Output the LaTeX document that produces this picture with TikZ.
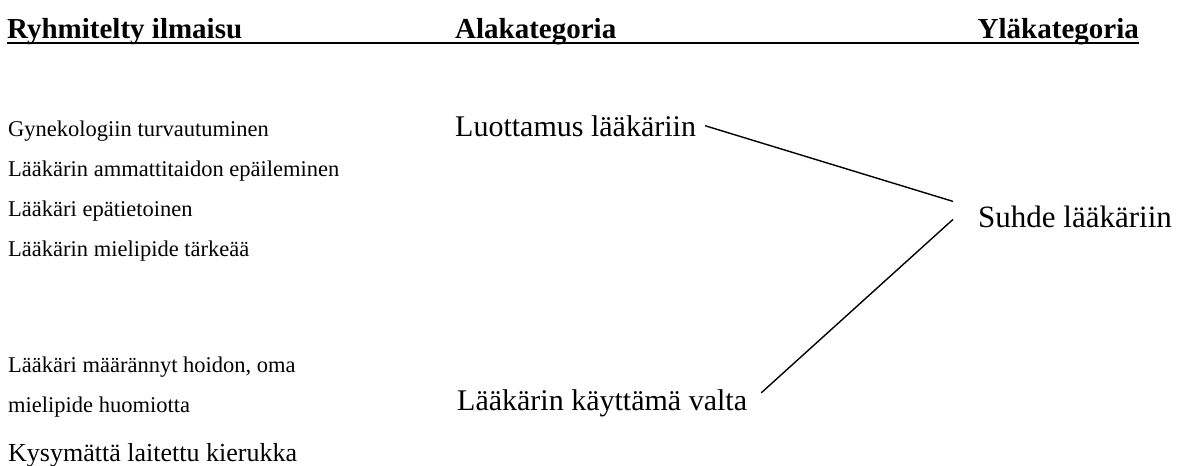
\documentclass[tikz,border=0pt]{standalone}
\usepackage{fontspec}
\setmainfont{Liberation Serif}
\tikzset{
  head/.style={inner sep=0pt, font=\fontsize{29}{33}\selectfont\bfseries},
  item/.style={inner sep=0pt, anchor=base west, font=\fontsize{22.5}{26}\selectfont},
  cat/.style={inner sep=0pt, anchor=base west, font=\fontsize{30}{34}\selectfont},
  link/.style={line width=1.4pt},
}
\begin{document}
\begin{tikzpicture}[x=1pt,y=-1pt]
\useasboundingbox (0,0) rectangle (1179,466);
% column headings
\node[head, anchor=base west] (h1) at (7,38) {Ryhmitelty ilmaisu};
\node[head, anchor=base west] (h2) at (455,38) {Alakategoria};
\node[head, anchor=base east] (h3) at (1139,38) {Yläkategoria};
\draw[line width=2.7pt] ([yshift=-5pt]h1.base west) -- ([yshift=-5pt]h3.base east);
% grouped expressions
\node[item] (e1) at (8,136) {Gynekologiin turvautuminen};
\node[item] (e2) at (8,176) {Lääkärin ammattitaidon epäileminen};
\node[item] (e3) at (8,216) {Lääkäri epätietoinen};
\node[item] (e4) at (8,256) {Lääkärin mielipide tärkeää};
\node[item] (e5) at (8,372) {Lääkäri määrännyt hoidon, oma};
\node[item] (e6) at (8,412) {mielipide huomiotta};
\node[item, font=\fontsize{26}{30}\selectfont] (e7) at (8,461) {Kysymättä laitettu kierukka};
% subcategories and main category
\node[cat] (luot) at (455,136) {Luottamus lääkäriin};
\node[cat] (valta) at (457,410) {Lääkärin käyttämä valta};
\node[cat, font=\fontsize{31}{35}\selectfont] (suhde) at (978,227) {Suhde lääkäriin};
% connectors
\draw[link] ([shift={(9,0)}]luot.east) -- ([shift={(-25,-15)}]suhde.west);
\draw[link] ([shift={(-25,3)}]suhde.west) -- ([shift={(14,-10)}]valta.east);
\end{tikzpicture}
\end{document}
